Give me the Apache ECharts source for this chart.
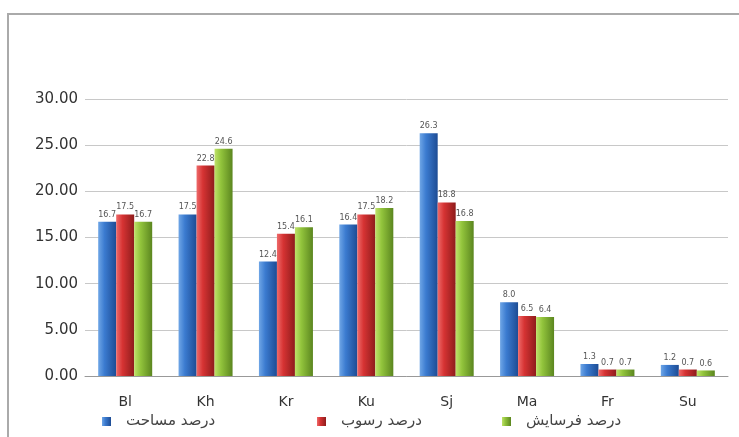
<!DOCTYPE html>
<html>
<head>
<meta charset="utf-8">
<script src="https://cdn.jsdelivr.net/npm/echarts@6/dist/echarts.min.js"></script>
<style>
  html, body { margin: 0; padding: 0; background: #fff; }
  #main { width: 739px; height: 437px; }
</style>
</head>
<body>
<div id="main"></div>
<script>
var categories = ['Bl', 'Kh', 'Kr', 'Ku', 'Sj', 'Ma', 'Fr', 'Su'];
var areaPct = [16.7, 17.5, 12.4, 16.4, 26.3, 8.0, 1.3, 1.2];
var sedimentPct = [17.5, 22.8, 15.4, 17.5, 18.8, 6.5, 0.7, 0.7];
var erosionPct = [16.7, 24.6, 16.1, 18.2, 16.8, 6.4, 0.7, 0.6];
var seriesNames = ['درصد مساحت', 'درصد رسوب', 'درصد فرسایش'];

var myChart = echarts.init(document.getElementById('main'));

// 柱子的立体感，用横向渐变模拟
function barColor(light, mid, dark) {
    return new echarts.graphic.LinearGradient(0, 0, 1, 0, [
        { offset: 0, color: light },
        { offset: 0.35, color: mid },
        { offset: 1, color: dark }
    ]);
}

var labelStyle = {
    show: true,
    position: 'top',
    distance: 3,
    fontSize: 8,
    color: '#555',
    fontFamily: 'DejaVu Sans',
    formatter: function (p) { return p.value.toFixed(1); }
};

function makeLegend(name, left) {
    return {
        data: [name],
        left: left,
        top: 409,
        icon: 'rect',
        itemWidth: 9,
        itemHeight: 9,
        textStyle: {
            fontSize: 15, color: '#444', fontFamily: 'DejaVu Sans',
            padding: [0, 0, 0, 10]
        }
    };
}

option = {
    backgroundColor: '#fff',
    animation: false,
    graphic: [{
        type: 'rect',
        shape: { x: 8, y: 14, width: 800, height: 500 },
        style: { fill: null, stroke: '#aaa', lineWidth: 2 },
        silent: true
    }],
    legend: [
        makeLegend(seriesNames[0], 97),
        makeLegend(seriesNames[1], 312),
        makeLegend(seriesNames[2], 497)
    ],
    grid: { left: 85, right: 11, top: 99, bottom: 61 },
    xAxis: {
        type: 'category',
        data: categories,
        axisLine: { lineStyle: { color: '#999' } },
        axisTick: { show: false },
        axisLabel: { fontSize: 14, color: '#333', margin: 19, fontFamily: 'DejaVu Sans' }
    },
    yAxis: {
        type: 'value',
        min: 0,
        max: 30,
        interval: 5,
        axisLine: { show: false },
        axisTick: { show: false },
        splitLine: { lineStyle: { color: '#c8c8c8' } },
        axisLabel: {
            fontSize: 15, color: '#333', margin: 7, fontFamily: 'DejaVu Sans',
            formatter: function (v) { return v.toFixed(2); }
        }
    },
    series: [
        {
            name: seriesNames[0], type: 'bar', data: areaPct,
            barWidth: 18, barGap: '0%',
            itemStyle: { color: barColor('#6fa6e6', '#3b7bd0', '#1d4c94') },
            label: labelStyle
        },
        {
            name: seriesNames[1], type: 'bar', data: sedimentPct,
            barWidth: 18, barGap: '0%',
            itemStyle: { color: barColor('#ee6a6a', '#d63333', '#8e1c1c') },
            label: labelStyle
        },
        {
            name: seriesNames[2], type: 'bar', data: erosionPct,
            barWidth: 18, barGap: '0%',
            itemStyle: { color: barColor('#bfe26a', '#92c43c', '#5b861f') },
            label: labelStyle
        }
    ]
};
myChart.setOption(option);
</script>
</body>
</html>
